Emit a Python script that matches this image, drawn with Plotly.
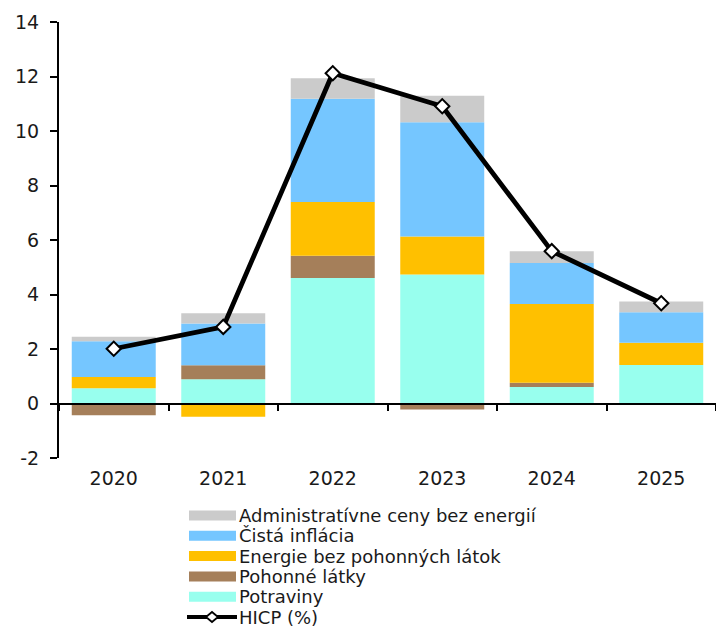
import plotly.graph_objects as go

# Inflation decomposition (contributions, p.p.) and headline HICP (%)
years = ["2020", "2021", "2022", "2023", "2024", "2025"]
potraviny = [0.56, 0.89, 4.61, 4.73, 0.61, 1.41]
pohonne_latky = [-0.43, 0.51, 0.81, -0.22, 0.15, -0.05]
energie = [0.41, -0.49, 1.97, 1.40, 2.89, 0.82]
cista_inflacia = [1.31, 1.54, 3.79, 4.19, 1.51, 1.12]
admin_ceny = [0.17, 0.37, 0.76, 0.97, 0.43, 0.39]
hicp = [2.01, 2.81, 12.12, 10.91, 5.59, 3.68]

y_ticks = [-2, 0, 2, 4, 6, 8, 10, 12, 14]
y_tick_labels = ["-2", "0", "2", "4", "6", "8", "10", "12", "14"]

C_ADMIN = "#CBCBCB"
C_CISTA = "#75C6FF"
C_ENERG = "#FFC000"
C_POHON = "#A57F5A"
C_POTRA = "#98FFEE"

FONT = "DejaVu Sans"
TXT = "#1a1a1a"
FS = 19
FS_LEG = 18

W, H = 716, 627
ML, MR, MT, MB = 59, 0, 22, 169
PW, PH = W - ML - MR, H - MT - MB

fig = go.Figure()

stack = [
    ("Potraviny", potraviny, C_POTRA),
    ("Pohonné látky", pohonne_latky, C_POHON),
    ("Energie bez pohonných látok", energie, C_ENERG),
    ("Čistá inflácia", cista_inflacia, C_CISTA),
    ("Administratívne ceny bez energií", admin_ceny, C_ADMIN),
]
for name, vals, col in stack:
    fig.add_trace(go.Bar(x=years, y=vals, name=name, marker=dict(color=col, line=dict(width=0)),
                         showlegend=False))

fig.add_trace(go.Scatter(
    x=years, y=hicp, name="HICP (%)", mode="lines+markers",
    line=dict(color="black", width=4.8),
    marker=dict(symbol="diamond", size=11, color="white", line=dict(color="black", width=2)),
    showlegend=False,
))


def px_x(px):
    return (px - ML) / PW


def px_y(py):
    return (H - MB - py) / PH


# Legend drawn below the plot
legend_rows = [
    ("Administratívne ceny bez energií", C_ADMIN),
    ("Čistá inflácia", C_CISTA),
    ("Energie bez pohonných látok", C_ENERG),
    ("Pohonné látky", C_POHON),
    ("Potraviny", C_POTRA),
]
row_y0, row_step = 515.5, 20.3
shapes = []
annotations = []
for i, (label, col) in enumerate(legend_rows):
    cy = row_y0 + i * row_step
    shapes.append(dict(type="rect", xref="paper", yref="paper",
                       x0=px_x(189), x1=px_x(236), y0=px_y(cy + 5), y1=px_y(cy - 5),
                       fillcolor=col, line=dict(width=0)))
    annotations.append(dict(text=label, xref="paper", yref="paper", x=px_x(237), y=px_y(cy),
                            xanchor="left", yanchor="middle", showarrow=False,
                            font=dict(family=FONT, size=FS_LEG, color=TXT)))
cy = row_y0 + 5 * row_step
shapes.append(dict(type="line", xref="paper", yref="paper",
                   x0=px_x(187), x1=px_x(237), y0=px_y(cy), y1=px_y(cy),
                   line=dict(color="black", width=4)))
shapes.append(dict(type="path", xref="paper", yref="paper", xsizemode="pixel", ysizemode="pixel",
                   xanchor=px_x(212), yanchor=px_y(cy),
                   path="M -6 0 L 0 5 L 6 0 L 0 -5 Z",
                   fillcolor="white", line=dict(color="black", width=1.8)))
annotations.append(dict(text="HICP (%)", xref="paper", yref="paper", x=px_x(237), y=px_y(cy),
                        xanchor="left", yanchor="middle", showarrow=False,
                        font=dict(family=FONT, size=FS_LEG, color=TXT)))

fig.update_layout(
    width=W, height=H,
    margin=dict(l=ML, r=MR, t=MT, b=MB),
    paper_bgcolor="white", plot_bgcolor="white",
    barmode="relative", bargap=0.233,
    font=dict(family=FONT, size=FS, color=TXT),
    xaxis=dict(type="category", range=[-0.5, 5.5], showline=False, ticks="",
               showgrid=False, zeroline=False, ticklabelstandoff=7,
               tickfont=dict(family=FONT, size=FS, color=TXT)),
    xaxis2=dict(type="category", overlaying="x", anchor="free",
                position=(0 - y_ticks[0]) / (y_ticks[-1] - y_ticks[0]),
                categoryarray=years, range=[-0.5, 5.5], side="bottom",
                showline=True, linecolor="black", linewidth=2,
                ticks="outside", tickson="boundaries", ticklen=6, tickwidth=2, tickcolor="black",
                showticklabels=False, showgrid=False, zeroline=False),
    yaxis=dict(range=[y_ticks[0], y_ticks[-1]], tickvals=y_ticks, ticktext=y_tick_labels,
               showgrid=False, zeroline=False,
               showline=True, linecolor="black", linewidth=2,
               ticks="outside", ticklen=7, tickwidth=2, tickcolor="black",
               ticklabelstandoff=7, tickfont=dict(family=FONT, size=FS, color=TXT)),
    shapes=shapes,
    annotations=annotations,
    showlegend=False,
)

# invisible helper so the zero-line axis is laid out
fig.add_trace(go.Scatter(x=years, y=[None] * len(years), xaxis="x2", showlegend=False,
                         hoverinfo="skip", mode="lines"))

fig.write_html("out.html")
